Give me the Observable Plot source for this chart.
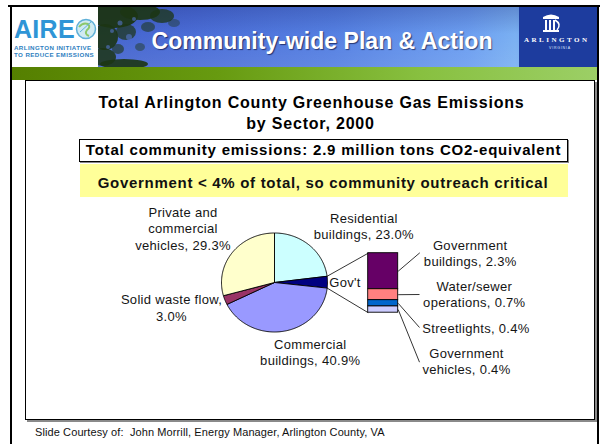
<!DOCTYPE html>
<html>
<head>
<meta charset="utf-8">
<script src="https://cdn.jsdelivr.net/npm/d3@7"></script>
<script src="https://cdn.jsdelivr.net/npm/@observablehq/plot@0.6"></script>
<style>
  html, body { margin: 0; padding: 0; background: #fff; }
  #slide { position: relative; width: 600px; height: 444px; overflow: hidden; font-family: "Liberation Sans", Arial, sans-serif; background: #fff; }
  .abs { position: absolute; }
  .txt { position: absolute; white-space: nowrap; line-height: 1; }
  .ctr { transform: translateX(-50%); }
</style>
</head>
<body>
<div id="slide">
  <!-- frame -->
  <div class="abs" style="left:8px;top:5px;width:592px;height:2px;background:#000"></div>
  <div class="abs" style="left:10px;top:5px;width:2px;height:439px;background:#000"></div>
  <div class="abs" style="left:597px;top:5px;width:2px;height:439px;background:#000"></div>
  <!-- banner -->
  <div class="abs" style="left:12px;top:7px;width:585px;height:60px;background:linear-gradient(90deg,#3e5cc4 0%,#4a6cd6 30%,#5580e2 55%,#6c9ef0 78%,#7ab0f2 86%,#4f80de 100%);"></div>
  <div class="abs" style="left:12px;top:7px;width:585px;height:60px;background:linear-gradient(180deg,rgba(20,30,110,0.25) 0%,rgba(0,0,0,0) 45%,rgba(255,255,255,0.08) 100%);"></div>
  <svg class="abs" style="left:96px;top:7px" width="110" height="60">
    <g fill="#1c3514">
      <ellipse cx="18" cy="9" rx="24" ry="12" opacity="0.95"/>
      <ellipse cx="44" cy="5" rx="20" ry="8" opacity="0.9"/>
      <ellipse cx="66" cy="9" rx="12" ry="7" opacity="0.75"/>
      <ellipse cx="9" cy="30" rx="13" ry="13" opacity="0.9"/>
      <ellipse cx="30" cy="25" rx="10" ry="8" opacity="0.7"/>
      <ellipse cx="52" cy="20" rx="7" ry="5" opacity="0.55"/>
      <ellipse cx="78" cy="16" rx="6" ry="4" opacity="0.4"/>
      <ellipse cx="7" cy="50" rx="13" ry="9" opacity="0.85"/>
      <ellipse cx="28" cy="57" rx="24" ry="5" opacity="0.9"/>
      <ellipse cx="44" cy="40" rx="5" ry="4" opacity="0.45"/>
      <ellipse cx="22" cy="42" rx="6" ry="5" opacity="0.6"/>
    </g>
    <g fill="#5a7ad8" opacity="0.55">
      <circle cx="24" cy="16" r="2.5"/><circle cx="38" cy="12" r="2"/><circle cx="16" cy="24" r="2"/><circle cx="33" cy="30" r="3"/><circle cx="12" cy="40" r="2"/>
    </g>
  </svg>
  <div class="abs" style="left:12px;top:7px;width:86px;height:60px;background:#fff"></div>
  <div class="txt" style="left:14px;top:17.3px;font-size:25px;font-weight:bold;color:#2f95d6;letter-spacing:0.3px">AIRE</div>
  <svg class="abs" style="left:75px;top:18px" width="22" height="22">
    <circle cx="11" cy="11" r="9.5" fill="#cfeaf2" stroke="#5fb0d8" stroke-width="1.5"/>
    <path d="M4 9 Q8 4 13 6 Q16 9 12 12 Q9 16 14 18" fill="none" stroke="#8cc86a" stroke-width="2"/>
    <path d="M5 14 L16 4" stroke="#5fb0d8" stroke-width="1"/>
  </svg>
  <div class="txt" style="left:14px;top:44.6px;font-size:6.2px;font-weight:bold;color:#2f7fbf;letter-spacing:0.4px">ARLINGTON INITIATIVE</div>
  <div class="txt" style="left:14px;top:51.5px;font-size:6.2px;font-weight:bold;color:#2f7fbf;letter-spacing:0.4px">TO REDUCE EMISSIONS</div>
  <div class="abs" style="left:519px;top:7px;width:78px;height:60px;background:#1d3c9e"></div>
  <svg class="abs" style="left:540px;top:12px" width="22" height="22">
    <path d="M3 5 Q11 0 19 5 L19 7 L3 7 Z" fill="#fff"/>
    <rect x="5" y="8" width="2" height="10" fill="#fff"/><rect x="9" y="8" width="2" height="10" fill="#fff"/><rect x="13" y="8" width="2" height="10" fill="#fff"/>
    <path d="M15 8 Q22 12 17 18" fill="none" stroke="#fff" stroke-width="1.5"/>
    <rect x="3" y="18" width="16" height="2" fill="#fff"/>
  </svg>
  <div class="txt" style="left:524px;top:37px;font-size:7px;font-weight:bold;color:#fff;font-family:'Liberation Serif',serif;letter-spacing:2.5px">ARLINGTON</div>
  <div class="txt" style="left:549px;top:47px;font-size:3.5px;color:#dfe6ff;letter-spacing:0.8px">VIRGINIA</div>
  <div class="txt ctr" style="left:322px;top:28.7px;font-size:24px;font-weight:bold;color:#fff;text-shadow:1px 1px 1px rgba(0,0,40,0.6);transform:translateX(-50%) scaleX(0.96)">Community-wide Plan &amp; Action</div>
  <div class="abs" style="left:12px;top:67px;width:585px;height:13px;background:linear-gradient(90deg,#557f00 0%,#679a10 35%,#88c040 70%,#9ccf66 100%);"></div>
  <!-- content box -->
  <div class="abs" style="left:25px;top:80px;width:568px;height:338px;border:1px solid #000;box-shadow:2px 2px 0 #8a8a8a;background:#fff"></div>
  <div class="txt ctr" style="left:311.5px;top:94.8px;font-size:16px;font-weight:bold;color:#000;letter-spacing:0.8px">Total Arlington County Greenhouse Gas Emissions</div>
  <div class="txt ctr" style="left:310.5px;top:115.8px;font-size:16px;font-weight:bold;color:#000;letter-spacing:0.8px">by Sector, 2000</div>
  <div class="abs" style="left:79px;top:139px;width:487px;height:21px;border:1px solid #000;box-shadow:1px 1px 0 #888;background:#fff"></div>
  <div class="txt ctr" style="left:323.5px;top:142.3px;font-size:15px;font-weight:bold;color:#000;letter-spacing:0.8px">Total community emissions: 2.9 million tons CO2-equivalent</div>
  <div class="abs" style="left:80px;top:164px;width:488px;height:33px;background:#ffff99"></div>
  <div class="txt ctr" style="left:323px;top:175px;font-size:15px;font-weight:bold;color:#111;letter-spacing:0.7px">Government &lt; 4% of total, so community outreach critical</div>
  <div class="txt" style="left:35px;top:426.5px;font-size:11px;color:#111;letter-spacing:0.1px">Slide Courtesy of:&nbsp; John Morrill, Energy Manager, Arlington County, VA</div>
</div>
<script>
// ---- data ----
const sectorNames = ["Residential buildings", "Gov't", "Commercial buildings", "Solid waste flow", "Private and commercial vehicles"];
const sectorShares = [23.0, 3.8, 40.9, 3.0, 29.3];
const sectorLabels = ["Residential\nbuildings, 23.0%", "Gov't", "Commercial\nbuildings, 40.9%", "Solid waste flow,\n3.0%", "Private and\ncommercial\nvehicles, 29.3%"];
const govNames = ["Government buildings", "Water/sewer operations", "Streetlights", "Government vehicles"];
const govShares = [2.3, 0.7, 0.4, 0.4];
const govLabels = ["Government\nbuildings, 2.3%", "Water/sewer\noperations, 0.7%", "Streetlights, 0.4%", "Government\nvehicles, 0.4%"];

// ---- styles & layout ----
const sectorColors = ["#CCFFFF", "#000080", "#9999FF", "#993366", "#FFFFCC"];
const govColors = ["#660066", "#FF8080", "#0066CC", "#CCCCFF"];
const PIE = {cx: 274, cy: 282, rx: 53, ry: 49.5};
const BAR = {x1: 367.7, x2: 397.7, top: 252.7, height: 59.5};
const sectorLabelPos = [[363.3, 225], [344.5, 281], [309.7, 351], [171, 306.7], [182.5, 227.5]];
const govLabelPos = [[469.7, 252], [473.8, 293.3], [475.5, 327.3], [466, 360]];
const govLeaderEnd = [[419.3, 252.3], [419, 294], [419, 327], [419, 361.7]];

// ---- geometry ----
const arcs = d3.pie().sort(null)(sectorShares);
const pt = a => ({x: PIE.cx + PIE.rx * Math.sin(a), y: PIE.cy - PIE.ry * Math.cos(a)});
const pieRows = arcs.flatMap((a, i) => {
  const n = Math.max(2, Math.ceil((a.endAngle - a.startAngle) / (Math.PI / 180)));
  const pts = [{x: PIE.cx, y: PIE.cy}];
  for (let k = 0; k <= n; k++) pts.push(pt(a.startAngle + (a.endAngle - a.startAngle) * k / n));
  pts.push({x: PIE.cx, y: PIE.cy});
  return pts.map(p => ({...p, key: sectorNames[i]}));
});
const pxPer = BAR.height / d3.sum(govShares);
const cum = d3.cumsum(govShares);
const barRows = govShares.map((v, i) => ({key: govNames[i], y1: BAR.top + (cum[i] - v) * pxPer, y2: BAR.top + cum[i] * pxPer}));
const govArc = arcs[1];
const pTop = pt(govArc.startAngle), pBot = pt(govArc.endAngle);
const connectors = [
  {x1: pTop.x, y1: pTop.y, x2: BAR.x1, y2: BAR.top},
  {x1: pBot.x, y1: pBot.y, x2: BAR.x1, y2: BAR.top + BAR.height}
];
const leaders = barRows.map((r, i) => ({x1: BAR.x2, y1: (r.y1 + r.y2) / 2, x2: govLeaderEnd[i][0], y2: govLeaderEnd[i][1]}));
const labelRows = [
  ...sectorLabels.map((t, i) => ({text: t, x: sectorLabelPos[i][0], y: sectorLabelPos[i][1]})),
  ...govLabels.map((t, i) => ({text: t, x: govLabelPos[i][0], y: govLabelPos[i][1]}))
];

const chart = Plot.plot({
  width: 600, height: 444, margin: 0,
  x: {type: "linear", domain: [0, 600], range: [0, 600], axis: null},
  y: {type: "linear", domain: [0, 444], range: [0, 444], axis: null},
  color: {domain: [...sectorNames, ...govNames], range: [...sectorColors, ...govColors]},
  marks: [
    Plot.line(pieRows, {x: "x", y: "y", z: "key", fill: "key", stroke: "#000", strokeWidth: 0.9, strokeLinejoin: "round"}),
    Plot.rect(barRows, {x1: () => BAR.x1, x2: () => BAR.x2, y1: "y1", y2: "y2", fill: "key", stroke: "#000", strokeWidth: 0.9}),
    Plot.link(connectors, {x1: "x1", y1: "y1", x2: "x2", y2: "y2", stroke: "#000", strokeWidth: 0.8}),
    Plot.link(leaders, {x1: "x1", y1: "y1", x2: "x2", y2: "y2", stroke: "#000", strokeWidth: 0.8}),
    Plot.text(labelRows, {x: "x", y: "y", text: "text", fontSize: 13, fontFamily: "Liberation Sans, Arial, sans-serif", fill: "#151515", textAnchor: "middle", lineAnchor: "middle", lineHeight: 1.285})
  ]
});
chart.style.position = "absolute";
chart.style.left = "0px";
chart.style.top = "0px";
chart.style.background = "none";
chart.style.letterSpacing = "0.3px";
chart.style.overflow = "visible";
document.getElementById("slide").appendChild(chart);
</script>
</body>
</html>
